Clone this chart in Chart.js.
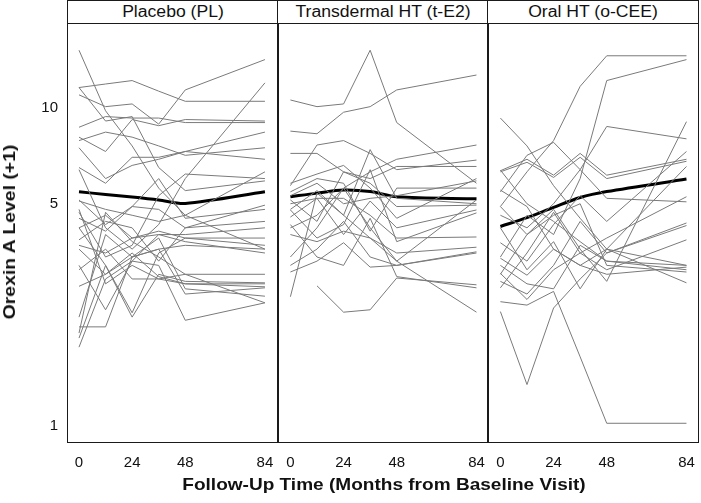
<!DOCTYPE html>
<html><head><meta charset="utf-8">
<script src="https://cdn.jsdelivr.net/npm/chart.js@4/dist/chart.umd.min.js"></script>
<style>
html,body{margin:0;padding:0;background:#fff}
body{width:701px;height:503px;overflow:hidden;position:relative;font-family:"Liberation Sans",Arial,sans-serif;color:#111}
.strip{position:absolute;top:0;height:24px;box-sizing:border-box;border:1.5px solid #1a1a1a;z-index:3;background:#fff}
.strip span{position:absolute;left:50%;top:11px;transform:translate(-50%,-50%) scaleX(1.1);white-space:nowrap;font-size:16px}
.frame{position:absolute;top:22.5px;height:420px;box-sizing:border-box;border:1.5px solid #1a1a1a;z-index:3;pointer-events:none}
canvas{position:absolute;top:23px}
#ytitle{position:absolute;left:10px;top:232px;transform:translate(-50%,-50%) rotate(-90deg) scaleX(1.14);white-space:nowrap;font-weight:bold;font-size:17px}
#xtitle{position:absolute;left:384px;top:485px;transform:translate(-50%,-50%) scaleX(1.12);white-space:nowrap;font-weight:bold;font-size:17px}
</style></head>
<body>
<div class="strip" style="left:67px;width:212px"><span>Placebo (PL)</span></div>
<div class="strip" style="left:277px;width:212px"><span>Transdermal HT (t-E2)</span></div>
<div class="strip" style="left:487px;width:212px"><span>Oral HT (o-CEE)</span></div>
<div class="frame" style="left:67.3px;width:211.5px"></div>
<div class="frame" style="left:277.3px;width:211.5px"></div>
<div class="frame" style="left:487.3px;width:211.5px"></div>
<canvas id="c1" width="278" height="480" style="left:0px"></canvas>
<canvas id="c2" width="210" height="480" style="left:278px"></canvas>
<canvas id="c3" width="210" height="480" style="left:488px"></canvas>
<div id="ytitle">Orexin A Level (+1)</div>
<div id="xtitle">Follow-Up Time (Months from Baseline Visit)</div>
<script>
// ---- data ----
const months = [0, 12, 24, 36, 48, 84];
const xTicks = [0, 24, 48, 84];
const yTicks = [1, 5, 10];
const panelTitles = ["Placebo (PL)", "Transdermal HT (t-E2)", "Oral HT (o-CEE)"];

const placeboLines = [
  [15.2, 9.8, 7.6, 5.6, 4.6, 3.6],
  [11.6, 11.9, 12.2, 11.3, 10.5, 10.5],
  [11.0, 10.1, 10.3, 8.9, 11.4, 14.2],
  [11.6, 9.1, 9.4, 6.5, 5.5, 5.9],
  [8.7, 9.4, 9.3, 9.3, 9.0, 9.0],
  [8.1, 7.3, 9.2, 8.8, 9.2, 9.1],
  [7.9, 8.4, 8.1, 7.6, 7.1, 7.5],
  [7.5, 6.0, 6.6, 6.9, 7.3, 6.9],
  [6.5, 5.8, 7.0, 7.0, 7.3, 8.4],
  [6.4, 4.2, 3.6, 4.3, 6.0, 12.0],
  [5.1, 4.8, 4.6, 4.4, 4.6, 6.3],
  [4.7, 3.4, 3.7, 5.3, 6.2, 6.0],
  [4.5, 4.1, 4.9, 4.8, 4.2, 4.4],
  [4.2, 4.6, 3.9, 4.0, 4.0, 4.2],
  [4.2, 3.2, 2.27, 3.5, 3.9, 3.9],
  [3.85, 4.4, 4.2, 3.3, 4.2, 4.95],
  [3.7, 3.5, 3.9, 4.1, 3.9, 3.7],
  [3.6, 3.0, 3.4, 3.6, 3.7, 3.6],
  [3.2, 2.32, 3.3, 4.0, 3.8, 3.5],
  [3.1, 3.6, 2.9, 2.9, 2.8, 2.8],
  [2.75, 3.0, 3.5, 2.95, 2.8, 2.74],
  [2.2, 4.0, 3.4, 3.6, 2.6, 2.72],
  [2.05, 2.05, 3.4, 3.9, 2.7, 2.56],
  [1.96, 4.7, 3.8, 3.4, 3.0, 2.44],
  [1.89, 3.2, 2.2, 3.0, 2.85, 2.82],
  [1.77, 2.9, 3.3, 3.2, 2.15, 2.44],
  [5.14, 4.3, 4.9, 6.0, 4.5, 4.8],
  [4.8, 2.8, 3.2, 2.9, 3.0, 3.0]
];
const placeboMean = [5.45, 5.35, 5.25, 5.14, 5.01, 5.45];

const transdermalLines = [
  [10.6, 10.1, 10.3, 15.2, 9.0, 5.8],
  [8.46, 8.3, 9.7, 10.1, 11.4, 12.7],
  [7.2, 7.2, 6.3, 6.0, 6.55, 6.55],
  [5.7, 7.65, 7.9, 7.2, 6.4, 6.86],
  [3.4, 4.2, 5.6, 6.3, 6.9, 7.65],
  [4.8, 5.5, 4.6, 7.4, 5.2, 5.0],
  [5.8, 6.2, 6.6, 5.6, 4.5, 6.0],
  [5.45, 6.0, 5.8, 4.1, 5.6, 5.6],
  [5.14, 4.4, 6.3, 5.8, 4.9, 4.95],
  [5.0, 5.2, 4.0, 5.1, 4.2, 4.78],
  [4.78, 3.9, 4.3, 6.4, 3.8, 4.68],
  [4.54, 5.2, 5.2, 4.6, 3.9, 3.93],
  [4.0, 3.8, 4.1, 3.9, 3.5, 3.65],
  [3.2, 3.6, 4.4, 3.4, 3.2, 3.5],
  [3.05, 3.3, 3.77, 3.16, 3.2, 3.53],
  [2.55, 5.4, 4.6, 3.9, 3.3, 2.28],
  [null, 2.76, 2.28, 2.32, 2.92, 2.78],
  [4.3, 3.4, 3.2, 4.5, 2.95, 2.72],
  [4.2, 4.6, 5.6, 4.2, 3.3, 5.14],
  [5.3, 5.8, 5.0, 5.2, 5.3, 5.9]
];
const transdermalMean = [5.26, 5.4, 5.52, 5.46, 5.26, 5.18];

const oralLines = [
  [9.3, 7.6, 5.7, 4.5, 3.6, 2.82],
  [4.9, 6.3, 7.9, 11.7, 14.6, 14.6],
  [3.4, 4.6, 4.0, 6.0, 12.2, 14.2],
  [6.35, 6.9, 6.15, 7.2, 6.15, 6.9],
  [6.3, 6.75, 6.05, 7.0, 6.0, 6.8],
  [5.45, 7.1, 7.8, 6.4, 5.2, 5.07],
  [4.6, 4.2, 5.0, 6.4, 8.75, 8.0],
  [3.0, 4.0, 4.8, 3.6, 2.85, 9.06],
  [3.77, 3.3, 4.3, 5.3, 4.4, 7.3],
  [3.37, 2.98, 3.6, 3.2, 3.6, 6.55],
  [3.02, 2.5, 3.1, 3.5, 3.9, 5.26],
  [2.85, 2.6, 3.2, 4.4, 3.5, 4.35],
  [2.72, 3.5, 4.7, 3.5, 3.1, 3.85],
  [2.46, 2.4, 2.65, 1.65, 1.02, 1.02],
  [2.29, 1.35, 2.35, 2.9, 3.5, 4.27],
  [6.38, 5.0, 4.4, 3.8, 3.3, 3.2],
  [5.52, 4.9, 3.6, 3.2, 3.0, 3.16],
  [4.9, 4.0, 4.6, 5.0, 3.2, 3.05],
  [3.2, 2.8, 2.7, 3.7, 3.3, 3.1],
  [4.2, 3.1, 3.8, 2.7, 3.6, 3.2]
];
const oralMean = [4.24, 4.52, 4.87, 5.23, 5.46, 5.98];

// ---- chart building ----
const tickFont = {family: "Liberation Sans, Arial, sans-serif", size: 15};
function toPoints(vals) {
  return months.map((m, i) => ({x: m, y: vals[i]})).filter(p => p.y !== null);
}
function makeChart(id, lines, mean, showY, xmin, xmax) {
  const datasets = lines.map(v => ({
    data: toPoints(v), borderColor: '#7a7a7a', borderWidth: 1, pointRadius: 0, tension: 0, spanGaps: true
  }));
  datasets.push({data: toPoints(mean), borderColor: '#000', borderWidth: 3, pointRadius: 0, tension: 0.3});
  return new Chart(document.getElementById(id), {
    type: 'line',
    data: {datasets},
    options: {
      responsive: false, animation: false, events: [],
      layout: {padding: 0},
      plugins: {legend: {display: false}, tooltip: {enabled: false}, title: {display: false}},
      scales: {
        x: {
          type: 'linear', min: xmin, max: xmax,
          grid: {display: false, drawTicks: false}, border: {display: false},
          ticks: {font: tickFont, color: '#111', padding: 12, maxRotation: 0, autoSkip: false,
                  callback: v => String(v)},
          afterBuildTicks: s => { s.ticks = xTicks.map(v => ({value: v})); },
          afterFit: s => { s.height = 61; s.paddingLeft = 0; s.paddingRight = 0; }
        },
        y: {
          type: 'logarithmic', min: 0.8906, max: 18.51, display: showY,
          grid: {display: false, drawTicks: false}, border: {display: false},
          ticks: {font: tickFont, color: '#111', padding: 10, callback: v => String(v)},
          afterBuildTicks: s => { s.ticks = yTicks.map(v => ({value: v})); },
          afterFit: s => { s.width = showY ? 68 : 0; s.paddingTop = 0; s.paddingBottom = 0; }
        }
      }
    }
  });
}
makeChart('c1', placeboLines, placeboMean, true, -4.97, 89.9);
makeChart('c2', transdermalLines, transdermalMean, false, -5.6, 89.2);
makeChart('c3', oralLines, oralMean, false, -5.6, 89.2);
</script>
</body></html>
